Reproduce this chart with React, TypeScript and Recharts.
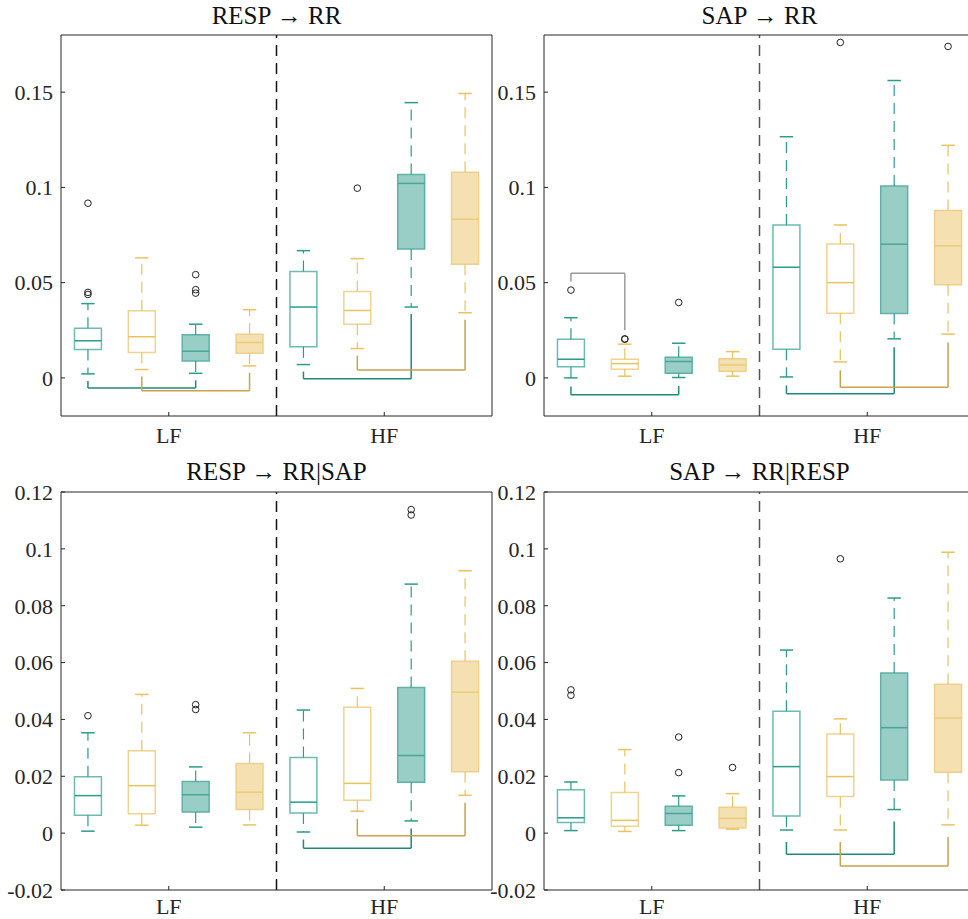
import React from 'react';
import { ComposedChart, XAxis, YAxis, ReferenceLine, ReferenceArea, Scatter } from 'recharts';

const FONT = "'Liberation Serif', 'Times New Roman', serif";
const INK = '#262626';

const boxPositions = [1, 2, 3, 4, 5, 6, 7, 8];
const groupTicks = [2.5, 6.5];
const groupLabels = ['LF', 'HF'];
const topTicks = [0, 0.05, 0.1, 0.15];
const bottomTicks = [-0.02, 0, 0.02, 0.04, 0.06, 0.08, 0.1, 0.12];

// RESP -> RR
const respRrLow = [0.0021, 0.0044, 0.0024, 0.0063, 0.007, 0.0154, 0.0372, 0.0342];
const respRrQ1 = [0.0149, 0.0133, 0.0089, 0.013, 0.0163, 0.0281, 0.0677, 0.0596];
const respRrMed = [0.0195, 0.0216, 0.014, 0.0186, 0.0372, 0.0354, 0.1021, 0.0833];
const respRrQ3 = [0.026, 0.0353, 0.0226, 0.0229, 0.0558, 0.0453, 0.1068, 0.1079];
const respRrHigh = [0.039, 0.063, 0.0282, 0.0358, 0.0668, 0.0626, 0.1445, 0.1493];
const respRrOutliers = [[0.0917, 0.0449, 0.0438], [], [0.0542, 0.0463, 0.0445], [], [], [0.0996], [], []];
const respRrBrackets = [
  { from: 1, to: 3, level: -0.0053, tone: 'teal' },
  { from: 2, to: 4, level: -0.0067, tone: 'gold' },
  { from: 5, to: 7, level: -0.0005, tone: 'teal' },
  { from: 6, to: 8, level: 0.0042, tone: 'gold' },
];

// SAP -> RR
const sapRrLow = [0.0, 0.0009, 0.0002, 0.0009, 0.0005, 0.0084, 0.0205, 0.023];
const sapRrQ1 = [0.0058, 0.0045, 0.0024, 0.0035, 0.0151, 0.034, 0.0338, 0.0489];
const sapRrMed = [0.0098, 0.0075, 0.0086, 0.0068, 0.0581, 0.05, 0.0702, 0.0693];
const sapRrQ3 = [0.0203, 0.0098, 0.0109, 0.01, 0.0802, 0.0703, 0.1008, 0.0879];
const sapRrHigh = [0.0316, 0.0177, 0.0182, 0.0138, 0.1266, 0.0803, 0.1561, 0.1221];
const sapRrOutliers = [[0.0461], [0.0203, 0.0205], [0.0396], [], [], [0.1761], [], [0.174]];
const sapRrBrackets = [
  { from: 1, to: 3, level: -0.0088, tone: 'teal' },
  { from: 1, to: 2, level: 0.0549, tone: 'gray' },
  { from: 5, to: 7, level: -0.0083, tone: 'teal' },
  { from: 6, to: 8, level: -0.0049, tone: 'gold' },
];

// RESP -> RR|SAP
const respCondLow = [0.0007, 0.0028, 0.0021, 0.0029, 0.0004, 0.0077, 0.0043, 0.0133];
const respCondQ1 = [0.0063, 0.0068, 0.0074, 0.0083, 0.0071, 0.0116, 0.0179, 0.0216];
const respCondMed = [0.0132, 0.0167, 0.0135, 0.0144, 0.0109, 0.0175, 0.0273, 0.0496];
const respCondQ3 = [0.0198, 0.029, 0.0182, 0.0245, 0.0266, 0.0443, 0.0512, 0.0605];
const respCondHigh = [0.0353, 0.0488, 0.0233, 0.0353, 0.0433, 0.0509, 0.0876, 0.0923];
const respCondOutliers = [[0.0413], [], [0.0452, 0.0435], [], [], [], [0.1138, 0.1119], []];
const respCondBrackets = [
  { from: 5, to: 7, level: -0.0053, tone: 'teal' },
  { from: 6, to: 8, level: -0.0009, tone: 'gold' },
];

// SAP -> RR|RESP
const sapCondLow = [0.0009, 0.0006, 0.0009, 0.0014, 0.0011, 0.0011, 0.0083, 0.0029];
const sapCondQ1 = [0.0037, 0.0024, 0.0028, 0.0018, 0.006, 0.0129, 0.0187, 0.0214];
const sapCondMed = [0.0054, 0.0045, 0.0069, 0.0052, 0.0234, 0.0199, 0.0371, 0.0405];
const sapCondQ3 = [0.0153, 0.0143, 0.0095, 0.0091, 0.0429, 0.0349, 0.0563, 0.0524];
const sapCondHigh = [0.018, 0.0294, 0.0131, 0.0139, 0.0644, 0.0402, 0.0827, 0.0988];
const sapCondOutliers = [[0.0504, 0.0485], [], [0.0338, 0.0213], [0.0231], [], [0.0965], [], []];
const sapCondBrackets = [
  { from: 5, to: 7, level: -0.0074, tone: 'teal' },
  { from: 6, to: 8, level: -0.0116, tone: 'gold' },
];

const BRACKET: Record<string, string> = { teal: '#1f8a78', gold: '#c9a24a', gray: '#9b9b9b' };

// teal hollow, gold hollow, teal filled, gold filled
const BOX_STYLE = [
  { line: '#2a9d8c', edge: '#6cbcb1', fill: 'none', median: '#2a9d8c' },
  { line: '#ebc35e', edge: '#f0d38e', fill: 'none', median: '#ebc35e' },
  { line: '#2a9d8c', edge: '#5fb2a6', fill: '#98cec6', median: '#4aa598' },
  { line: '#ebc35e', edge: '#efd08a', fill: '#f5e0b1', median: '#eccb7a' },
];

const DASH = '11 7';

const panels = [
  {
    title: 'RESP \u2192 RR', left: 0, top: 0, height: 450, marginTop: 34, marginBottom: 4, xAxisHeight: 30,
    labelMargin: 15, domain: [-0.02, 0.18], ticks: topTicks, gapPx: 7, sep: '#111',
    low: respRrLow, q1: respRrQ1, med: respRrMed, q3: respRrQ3, high: respRrHigh,
    outliers: respRrOutliers, brackets: respRrBrackets,
  },
  {
    title: 'SAP \u2192 RR', left: 483, top: 0, height: 450, marginTop: 34, marginBottom: 4, xAxisHeight: 30,
    labelMargin: 15, domain: [-0.02, 0.18], ticks: topTicks, gapPx: 8.5, sep: '#555',
    low: sapRrLow, q1: sapRrQ1, med: sapRrMed, q3: sapRrQ3, high: sapRrHigh,
    outliers: sapRrOutliers, brackets: sapRrBrackets,
  },
  {
    title: 'RESP \u2192 RR|SAP', left: 0, top: 450, height: 469, marginTop: 41, marginBottom: 0, xAxisHeight: 29,
    labelMargin: 12, domain: [-0.02, 0.12], ticks: bottomTicks, gapPx: 7.5, sep: '#111',
    low: respCondLow, q1: respCondQ1, med: respCondMed, q3: respCondQ3, high: respCondHigh,
    outliers: respCondOutliers, brackets: respCondBrackets,
  },
  {
    title: 'SAP \u2192 RR|RESP', left: 483, top: 450, height: 469, marginTop: 41, marginBottom: 0, xAxisHeight: 29,
    labelMargin: 12, domain: [-0.02, 0.12], ticks: bottomTicks, gapPx: 12, sep: '#555',
    low: sapCondLow, q1: sapCondQ1, med: sapCondMed, q3: sapCondQ3, high: sapCondHigh,
    outliers: sapCondOutliers, brackets: sapCondBrackets,
  },
];

const CHART_W = 500;
const Y_AXIS_W = 61;
const RIGHT_MARGIN = 7;

function BoxPanel({ p }: { p: any }) {
  const span = p.domain[1] - p.domain[0];
  const plotH = p.height - p.marginTop - 1 - p.marginBottom - p.xAxisHeight;
  const gap = (p.gapPx * span) / plotH;

  const els: any[] = [];
  boxPositions.forEach((x, i) => {
    const s = BOX_STYLE[i % 4];
    els.push(
      <ReferenceLine key={`wu${i}`} segment={[{ x, y: p.q3[i] }, { x, y: p.high[i] }]} stroke={s.line} strokeWidth={1.2} strokeDasharray={DASH} />,
      <ReferenceLine key={`wl${i}`} segment={[{ x, y: p.q1[i] }, { x, y: p.low[i] }]} stroke={s.line} strokeWidth={1.2} strokeDasharray={DASH} />,
      <ReferenceLine key={`ch${i}`} segment={[{ x: x - 0.125, y: p.high[i] }, { x: x + 0.125, y: p.high[i] }]} stroke={s.line} strokeWidth={1.5} />,
      <ReferenceLine key={`cl${i}`} segment={[{ x: x - 0.125, y: p.low[i] }, { x: x + 0.125, y: p.low[i] }]} stroke={s.line} strokeWidth={1.5} />,
      <ReferenceArea key={`bx${i}`} x1={x - 0.25} x2={x + 0.25} y1={p.q1[i]} y2={p.q3[i]} fill={s.fill} fillOpacity={1} stroke={s.edge} strokeWidth={1.5} />,
      <ReferenceLine key={`md${i}`} segment={[{ x: x - 0.25, y: p.med[i] }, { x: x + 0.25, y: p.med[i] }]} stroke={s.median} strokeWidth={1.5} />
    );
  });

  // significance brackets: legs stop a few pixels short of the box's extreme point
  p.brackets.forEach((b: any, j: number) => {
    const color = BRACKET[b.tone];
    [b.from, b.to].forEach((pos: number, k: number) => {
      const i = pos - 1;
      const pts = [p.low[i], p.high[i], ...p.outliers[i]];
      const above = b.level > p.high[i];
      const start = above ? Math.max(...pts) + gap : Math.min(...pts) - gap;
      els.push(
        <ReferenceLine key={`bl${j}-${k}`} segment={[{ x: pos, y: start }, { x: pos, y: b.level }]} stroke={color} strokeWidth={1.5} />
      );
    });
    els.push(
      <ReferenceLine key={`bh${j}`} segment={[{ x: b.from, y: b.level }, { x: b.to, y: b.level }]} stroke={color} strokeWidth={1.5} />
    );
  });

  const outlierData = p.outliers.flatMap((vals: number[], i: number) =>
    vals.map((v) => ({ x: boxPositions[i], y: v }))
  );

  const axisFont = { fill: INK, fontSize: 22, fontFamily: FONT };

  return (
    <div style={{ position: 'absolute', left: p.left, top: p.top }}>
      <ComposedChart
        width={CHART_W}
        height={p.height}
        margin={{ top: p.marginTop, right: RIGHT_MARGIN, bottom: p.marginBottom, left: 0 }}
      >
        <XAxis
          type="number"
          dataKey="x"
          domain={[0.5, 8.5]}
          ticks={groupTicks}
          interval={0}
          allowDataOverflow
          height={p.xAxisHeight}
          tickSize={-4}
          tickMargin={p.labelMargin}
          stroke={INK}
          tick={axisFont}
          tickFormatter={(v: number) => groupLabels[groupTicks.indexOf(v)]}
        />
        <XAxis
          xAxisId="top"
          orientation="top"
          type="number"
          domain={[0.5, 8.5]}
          ticks={groupTicks}
          interval={0}
          allowDataOverflow
          height={1}
          tickSize={-4}
          stroke={INK}
          tick={false}
        />
        <YAxis
          type="number"
          domain={p.domain}
          ticks={p.ticks}
          interval={0}
          allowDataOverflow
          width={Y_AXIS_W}
          tickSize={-4}
          tickMargin={12}
          stroke={INK}
          tick={axisFont}
        />
        <YAxis
          yAxisId="right"
          orientation="right"
          type="number"
          domain={p.domain}
          ticks={p.ticks}
          interval={0}
          allowDataOverflow
          width={1}
          tickSize={-4}
          stroke={INK}
          tick={false}
        />
        <ReferenceLine x={4.5} stroke={p.sep} strokeWidth={1.5} strokeDasharray={DASH} />
        {els}
        <Scatter
          data={outlierData}
          dataKey="y"
          isAnimationActive={false}
          shape={(s: any) => <circle cx={s.cx} cy={s.cy} r={3.3} fill="none" stroke="#222" strokeWidth={1} />}
        />
      </ComposedChart>
    </div>
  );
}

export default function App() {
  return (
    <div
      style={{
        position: 'absolute',
        left: 0,
        top: 0,
        width: 968,
        height: 919,
        overflow: 'hidden',
        background: '#fff',
        fontFamily: FONT,
      }}
    >
      {panels.map((p) => (
        <BoxPanel key={p.title} p={p} />
      ))}
      <svg width={968} height={919} style={{ position: 'absolute', left: 0, top: 0, pointerEvents: 'none' }}>
        {panels.map((p) => {
          const plotLeft = p.left + Y_AXIS_W;
          const plotRight = p.left + CHART_W - RIGHT_MARGIN - 1;
          return (
            <text
              key={p.title}
              x={(plotLeft + plotRight) / 2}
              y={p.top === 0 ? 24 : 480}
              textAnchor="middle"
              fontFamily={FONT}
              fontSize={25}
              fill="#111"
            >
              {p.title}
            </text>
          );
        })}
      </svg>
    </div>
  );
}
